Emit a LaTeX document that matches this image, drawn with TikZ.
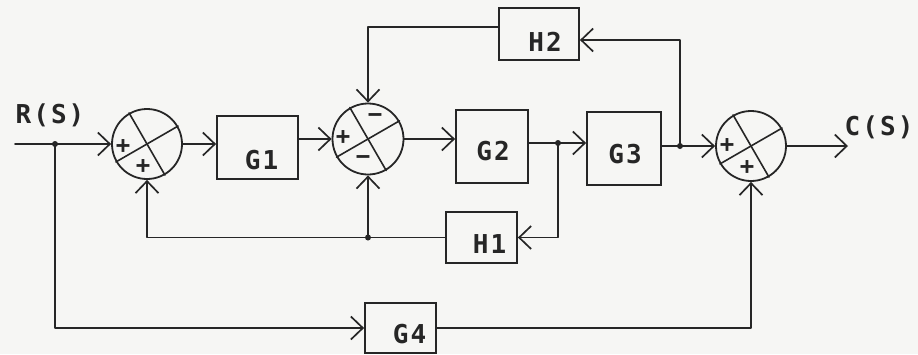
\documentclass[tikz,border=0pt]{standalone}
\usepackage{fontspec}
\newfontfamily\labfont[LetterSpace=8]{DejaVu Sans Mono Bold}
\usetikzlibrary{arrows.meta,calc}
\definecolor{inkc}{RGB}{38,38,38}
\definecolor{paper}{RGB}{246,246,244}
\begin{document}
\begin{tikzpicture}[x=1pt,y=-1pt,
  ink/.style={draw=inkc, line width=1.9pt, line cap=round, line join=round},
  sumnode/.style={circle, draw=inkc, line width=1.8pt, minimum size=70pt, inner sep=0pt},
  blockbox/.style={rectangle, draw=inkc, line width=1.8pt, inner sep=0pt},
  lbl/.style={font=\labfont\fontsize{26}{26}\selectfont, text=inkc, inner sep=0pt},
  arr/.style={-{Straight Barb[length=12pt,width=23pt,line width=1.7pt]}},
  dotj/.style={circle, fill=inkc, inner sep=0pt, minimum size=6pt},
  sgn/.style={font=\labfont\fontsize{24}{24}\selectfont, text=inkc, inner sep=0pt}
]
\fill[paper] (0,0) rectangle (918,354);
\useasboundingbox (0,0) rectangle (918,354);

% summing junctions
\node[sumnode] (s1) at (147,144) {};
\node[sumnode, minimum size=71pt] (s2) at (368,139) {};
\node[sumnode] (s3) at (751,146) {};
\foreach \s in {s1,s2,s3}{
  \draw[ink, line width=1.6pt] (\s.120) -- (\s.-60);
  \draw[ink, line width=1.6pt] (\s.210) -- (\s.30);
}
% signs
\node[sgn] at ($(s1)+(-24,3)$) {+};
\node[sgn] at ($(s1)+(-4,23)$) {+};
\node[sgn] at ($(s2)+(-25,-1)$) {+};
\node[sgn] at ($(s2)+(7,-21)$) {−};
\node[sgn] at ($(s2)+(-5,21)$) {−};
\node[sgn] at ($(s3)+(-24,0)$) {+};
\node[sgn] at ($(s3)+(-4,22)$) {+};

% blocks
\node[blockbox, minimum width=81pt, minimum height=63pt,
      label={[lbl, xshift=4pt, yshift=-13pt]center:G1}] (G1) at (257.5,147.5) {};
\node[blockbox, minimum width=72pt, minimum height=73pt,
      label={[lbl, xshift=1pt, yshift=-5pt]center:G2}] (G2) at (492,146.5) {};
\node[blockbox, minimum width=74pt, minimum height=73pt,
      label={[lbl, xshift=1pt, yshift=-6pt]center:G3}] (G3) at (624,148.5) {};
\node[blockbox, minimum width=80pt, minimum height=52pt,
      label={[lbl, xshift=6pt, yshift=-8pt]center:H2}] (H2) at (539,34) {};
\node[blockbox, minimum width=71pt, minimum height=51pt,
      label={[lbl, xshift=8pt, yshift=-7pt]center:H1}] (H1) at (481.5,237.5) {};
\node[blockbox, minimum width=71pt, minimum height=50pt,
      label={[lbl, xshift=9pt, yshift=-6pt]center:G4}] (G4) at (400.5,328) {};

% labels
\node[lbl] (R) at (50,115) {R(S)};
\node[lbl] (C) at (879,127) {C(S)};

% coordinates
\coordinate (in) at (15,144);
\coordinate (j0) at (55,144);
\coordinate (j1) at (558,143);
\coordinate (j3) at (680,146);
\coordinate (out) at (848,146);

% forward path
\draw[ink, arr] (in) -- (s1.west);
\draw[ink, arr] (s1.east) -- (s1.east -| G1.west);
\draw[ink, arr] (G1.east |- s2.west) -- (s2.west);
\draw[ink, arr] (s2.east) -- (s2.east -| G2.west);
\draw[ink] (j1 -| G2.east) -- (j1);
\draw[ink, arr] (j1) -- (j1 -| G3.west);
\draw[ink] (j3 -| G3.east) -- (j3);
\draw[ink, arr] (j3) -- (s3.west);
\draw[ink, arr] (s3.east) -- (out);

% feedforward G4
\draw[ink, arr] (j0) |- (G4.west);
\draw[ink, arr] (G4.east) -| (s3.south);

% H1 loop
\draw[ink, arr] (j1) |- (H1.east);
\draw[ink, arr] (H1.west) -| (s1.south);
\coordinate (j2) at (s2.south |- H1.west);
\draw[ink, arr] (j2) -- (s2.south);

% H2 loop
\draw[ink, arr] (j3) |- ([yshift=-6pt]H2.east);
\draw[ink, arr] ([yshift=7pt]H2.west) -| (s2.north);

% junction dots
\foreach \j in {j0,j1,j2,j3}{ \node[dotj] at (\j) {}; }
\end{tikzpicture}
\end{document}
